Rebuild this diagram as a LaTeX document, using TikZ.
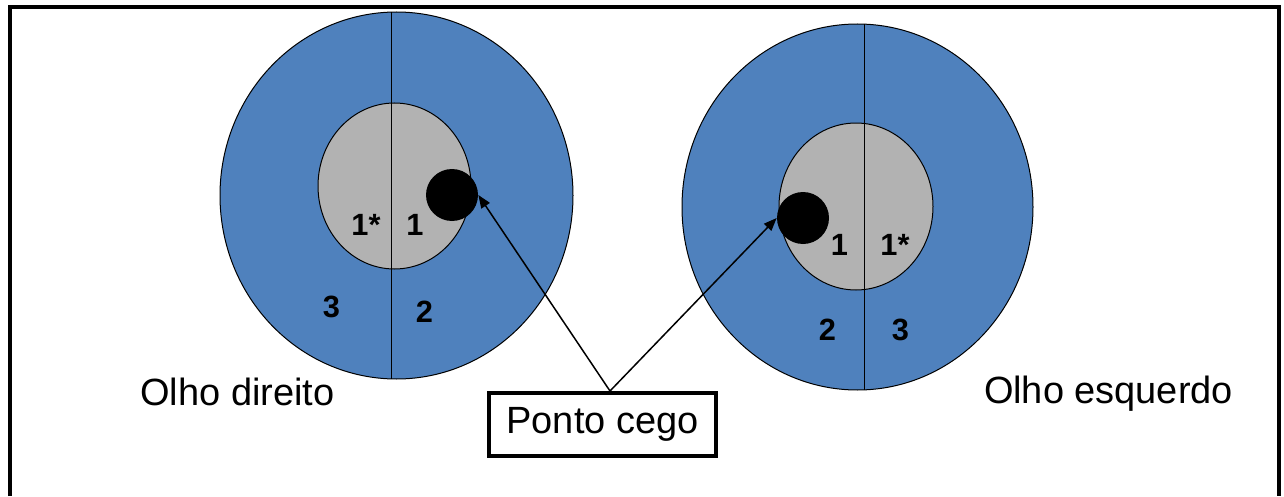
\documentclass[tikz,border=0pt]{standalone}
\usepackage{fontspec}
\setmainfont{Liberation Sans}
\usetikzlibrary{arrows.meta,positioning}
\definecolor{retina}{RGB}{79,129,189}
\definecolor{macula}{RGB}{178,178,178}
\tikzset{
  eyeouter/.style={draw=black,line width=0.02cm,fill=retina},
  eyeinner/.style={draw=black,line width=0.02cm,fill=macula},
  midline/.style={line width=0.02cm},
  blindspot/.style={circle,fill=black,inner sep=0pt,minimum size=1.04cm},
  zonelabel/.style={anchor=base,font=\fontsize{17.5}{17.5}\selectfont\bfseries},
  eyecaption/.style={anchor=base,font=\fontsize{21.6}{21.6}\selectfont},
  pointer/.style={line width=0.03cm,-{Triangle[length=0.26cm,width=0.2cm]}}
}
\begin{document}
\begin{tikzpicture}
                \useasboundingbox (0,0) rectangle (25.680000,9.920000);

                % Drawing frame
                \draw [line width=0.08cm] (0.200000,0.000000) -- (0.200000,9.780000) -- (25.580000,9.780000) -- (25.580000,0.000000);%

                % Drawing eye direito
                \path [eyeouter] (7.930000,6.010000) ellipse [x radius=3.530000cm, y radius=3.670000cm];%
                \path [eyeinner] (7.890000,6.200000) ellipse [x radius=1.530000cm, y radius=1.660000cm];%
                \draw [midline] (7.820000,9.680000) -- (7.820000,2.340000);%
                \node [blindspot] (spotD) at (9.040000,6.020000) {};%

                % Marking zones direito
                \node [zonelabel] (d1s) at (7.320000,5.220000) {1*};%
                \node [zonelabel] (d1) at (8.300000,5.220000) {1};%
                \node [zonelabel] (d3) at (6.630000,3.580000) {3};%
                \node [zonelabel] (d2) at (8.490000,3.480000) {2};%

                % Drawing eye esquerdo
                \path [eyeouter] (17.150000,5.780000) ellipse [x radius=3.510000cm, y radius=3.660000cm];%
                \path [eyeinner] (17.120000,5.790000) ellipse [x radius=1.540000cm, y radius=1.670000cm];%
                \draw [midline] (17.280000,9.440000) -- (17.280000,2.120000);%
                \node [blindspot] (spotE) at (16.060000,5.560000) {};%

                % Marking zones esquerdo
                \node [zonelabel] (e1) at (16.790000,4.820000) {1};%
                \node [zonelabel] (e1s) at (17.900000,4.820000) {1*};%
                \node [zonelabel] (e2) at (16.550000,3.120000) {2};%
                \node [zonelabel] (e3) at (18.010000,3.120000) {3};%

                % Marking captions
                \node [eyecaption] (olhoD) at (4.750000,1.820000) {Olho direito};%
                \node [eyecaption] (olhoE) at (22.170000,1.860000) {Olho esquerdo};%

                % Drawing box Ponto cego
                \node [draw,line width=0.08cm,minimum width=4.540000cm,minimum height=1.260000cm,
                       font=\fontsize{21.6}{21.6}\selectfont] (pc) at (12.050000,1.430000) {Ponto cego};%

                % Drawing arrows
                \draw [pointer] ([xshift=0.150000cm]pc.north) -- (spotD.east);%
                \draw [pointer] ([xshift=0.150000cm]pc.north) -- (spotE.west);%
\end{tikzpicture}
\end{document}
